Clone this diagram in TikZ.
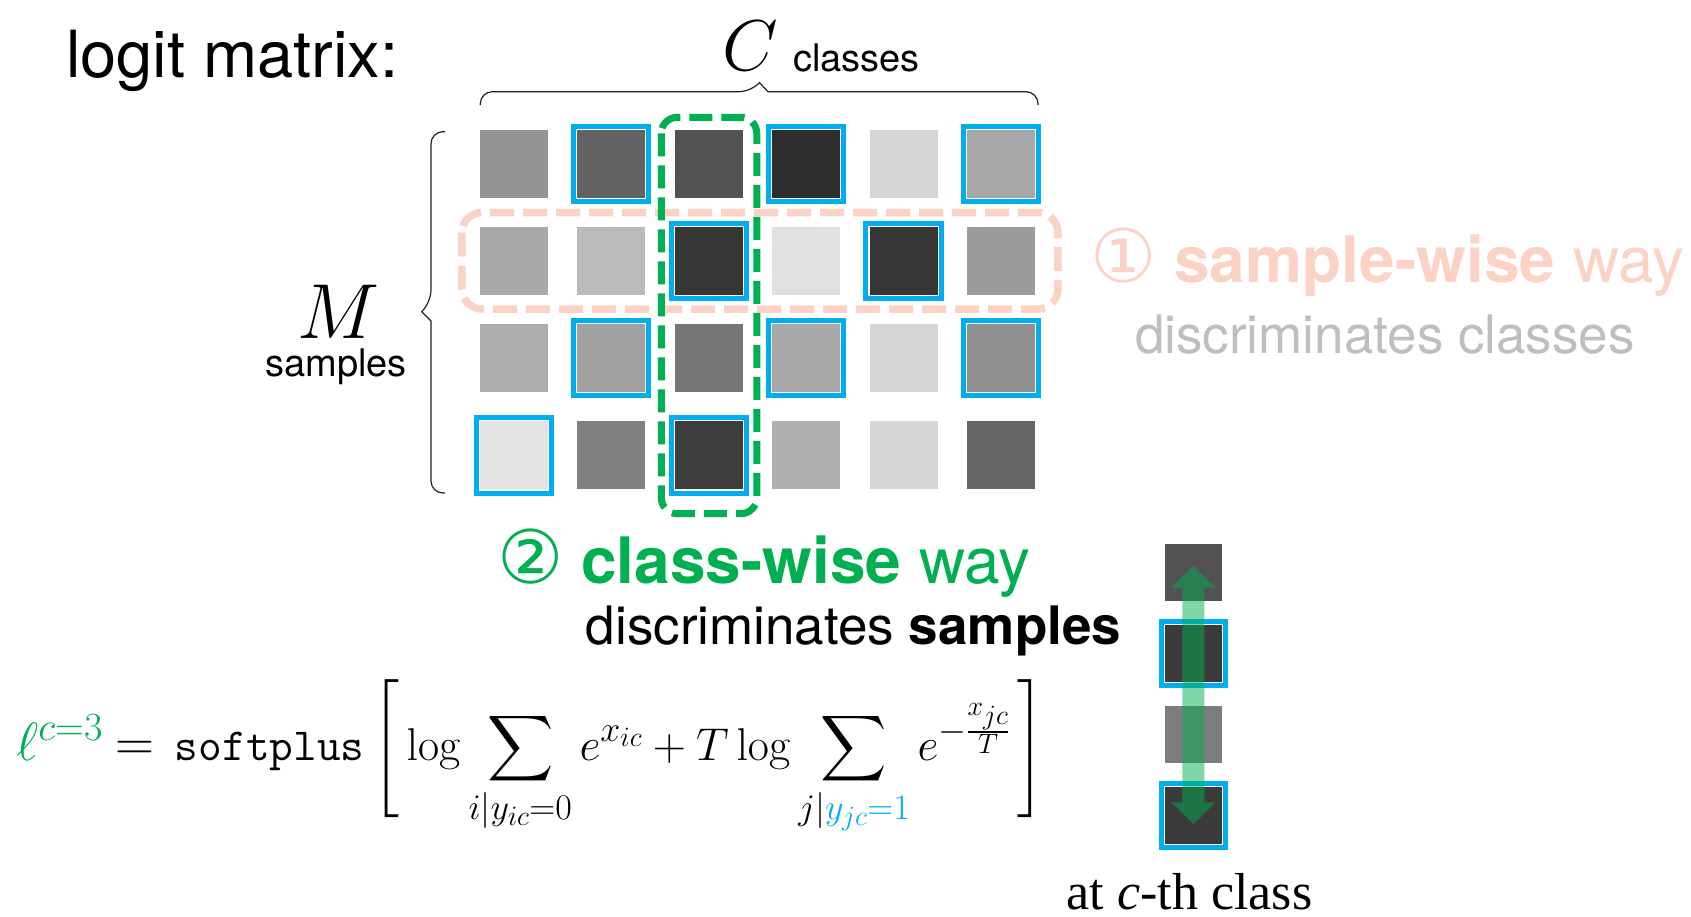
\RequirePackage{fix-cm}
\documentclass[tikz,border=0pt]{standalone}
\usepackage[no-math]{fontspec}
\DeclareFontShape{OMX}{cmex}{m}{n}{<->cmex10}{}
\DeclareMathSizes{46}{46}{36}{28}
\DeclareMathSizes{54}{54}{40}{30}
\newfontfamily\hvfont{TeX Gyre Heros}
\newfontfamily\dejavu{DejaVu Sans}
\newfontfamily\timesfont{Liberation Serif}
\usetikzlibrary{arrows.meta, positioning, fit, calc}
\definecolor{hitblue}{HTML}{00AEEF}
\definecolor{clsgreen}{HTML}{00AF50}
\definecolor{smppink}{HTML}{FBD2C4}
\definecolor{softgray}{HTML}{BCBEC0}
\definecolor{braceink}{HTML}{231F20}

\begin{document}
\begin{tikzpicture}[
    x=1pt, y=-1pt,
    cell/.style={rectangle, minimum size=68pt, inner sep=0pt, outer sep=0pt},
    hit/.style={rectangle, draw=hitblue, line width=5pt, inner sep=3.6pt},
    wayline/.style={dash pattern=on 23pt off 9pt, line width=7pt, rounded corners=16pt},
    brc/.style={draw=braceink, line width=1.2pt},
    hv/.style={font=\hvfont\fontsize{#1}{#1}\selectfont, inner sep=0pt},
    cmparr/.style={clsgreen, line width=22pt,
        {Triangle[width=43pt 0, length=21.7pt 0]}-{Triangle[width=43pt 0, length=21.7pt 0]},
        shorten <=-6.3pt, shorten >=-8.7pt}
]
    \useasboundingbox (0,0) rectangle (1691,916);

    % logit matrix, M x C
    \foreach \row [count=\r] in {{42,61,68,82,16,34}, {34,27,79,12,79,39},
                                 {32,37,54,34,16,44}, {11,50,76,31,16,60}}
        \foreach \g [count=\c] in \row
            \node[cell, fill=black!\g] (c-\r-\c) at ({513.9+97.4*(\c-1)}, {163.8+97.2*(\r-1)}) {};
    % positives
    \foreach \r/\c in {1/2,1/4,1/6,2/3,2/5,3/2,3/4,3/6,4/1,4/3}
        \node[hit, fit=(c-\r-\c)] {};

    % braces
    \draw[brc] (480.3,105) [rounded corners=12pt] |- (751,91.7) [sharp corners] -- (759.5,82.7)
        -- (768,91.7) [rounded corners=12pt] -| (1038,105);
    \draw[brc] (445,131.7) [rounded corners=12pt] -| (431,302) [sharp corners] -- (421.7,311.7)
        -- (431,321) [rounded corners=12pt] |- (445,493);

    % sample-wise / class-wise groups
    \draw[wayline, smppink, line width=7.5pt, dash pattern=on 24pt off 9pt, rounded corners=20pt]
        ($(c-2-1.north west)+(-18,-14.5)$) rectangle ($(c-2-6.south east)+(23,14)$);
    \draw[wayline, clsgreen]
        ($(c-1-3.north west)+(-13.4,-12.5)$) rectangle ($(c-4-3.south east)+(14.1,24.3)$);

    % labels
    \node[hv=65, anchor=base west] (title) at (66,77.6) {logit matrix:};
    \node[anchor=base west, inner sep=0pt, font=\fontsize{72}{72}\selectfont] (ccap) at (722,70) {$C$};
    \node[hv=38, anchor=base west] (clslbl) at (793,71) {classes};
    \node[anchor=base, inner sep=0pt, font=\fontsize{78}{78}\selectfont] (mcap) at (339,338) {$M$};
    \node[hv=38, anchor=base] (smplbl) at (336,376.7) {samples};

    \node[hv=64, text=smppink, anchor=base west] (swlbl) at (1090,282.6)
        {{\dejavu\fontsize{74}{74}\selectfont ①} \textbf{sample-wise} way};
    \node[hv=53, text=softgray, anchor=base] (swsub) at (1385,353.7) {discriminates classes};
    \node[hv=64, text=clsgreen, anchor=base west] (cwlbl) at (497,583.5)
        {{\dejavu\fontsize{74}{74}\selectfont ②} \textbf{class-wise} way};
    \node[hv=53, anchor=base west] (cwsub) at (585.6,644) {discriminates \textbf{samples}};

    % loss
    \node[anchor=base west, inner sep=0pt, font=\fontsize{46}{46}\selectfont] (loss) at (16,760)
        {$\displaystyle \mbox{\fontsize{54}{54}\selectfont$\color{clsgreen}\ell^{c=3}$}\;
          \mbox{\fontsize{54}{54}\selectfont$=$}\;\,\texttt{softplus}\left[\vrule height 81pt depth 58pt width 0pt\,
          \smash{\log\sum_{i|y_{ic}=0} e^{x_{ic}} + T\log\sum_{j|{\color{hitblue}y_{jc}=1}} e^{-\frac{x_{jc}}{T}}}\,\right]$};

    % c-th class column
    \foreach \g [count=\i] in {68,77,51,77}
        \node[cell, minimum size=57pt, fill=black!\g] (k-\i) at (1193.4, {572.3+81*(\i-1)}) {};
    \foreach \i in {2,4}
        \node[hit, fit=(k-\i)] {};
    \begin{scope}[transparency group, opacity=0.5]
        \draw[cmparr] (k-1.center) -- (k-4.center);
    \end{scope}
    \node[anchor=base, inner sep=0pt, font=\timesfont\fontsize{52}{52}\selectfont] (cth) at (1189.5,909)
        {at \textit{c}-th class};
\end{tikzpicture}
\end{document}
